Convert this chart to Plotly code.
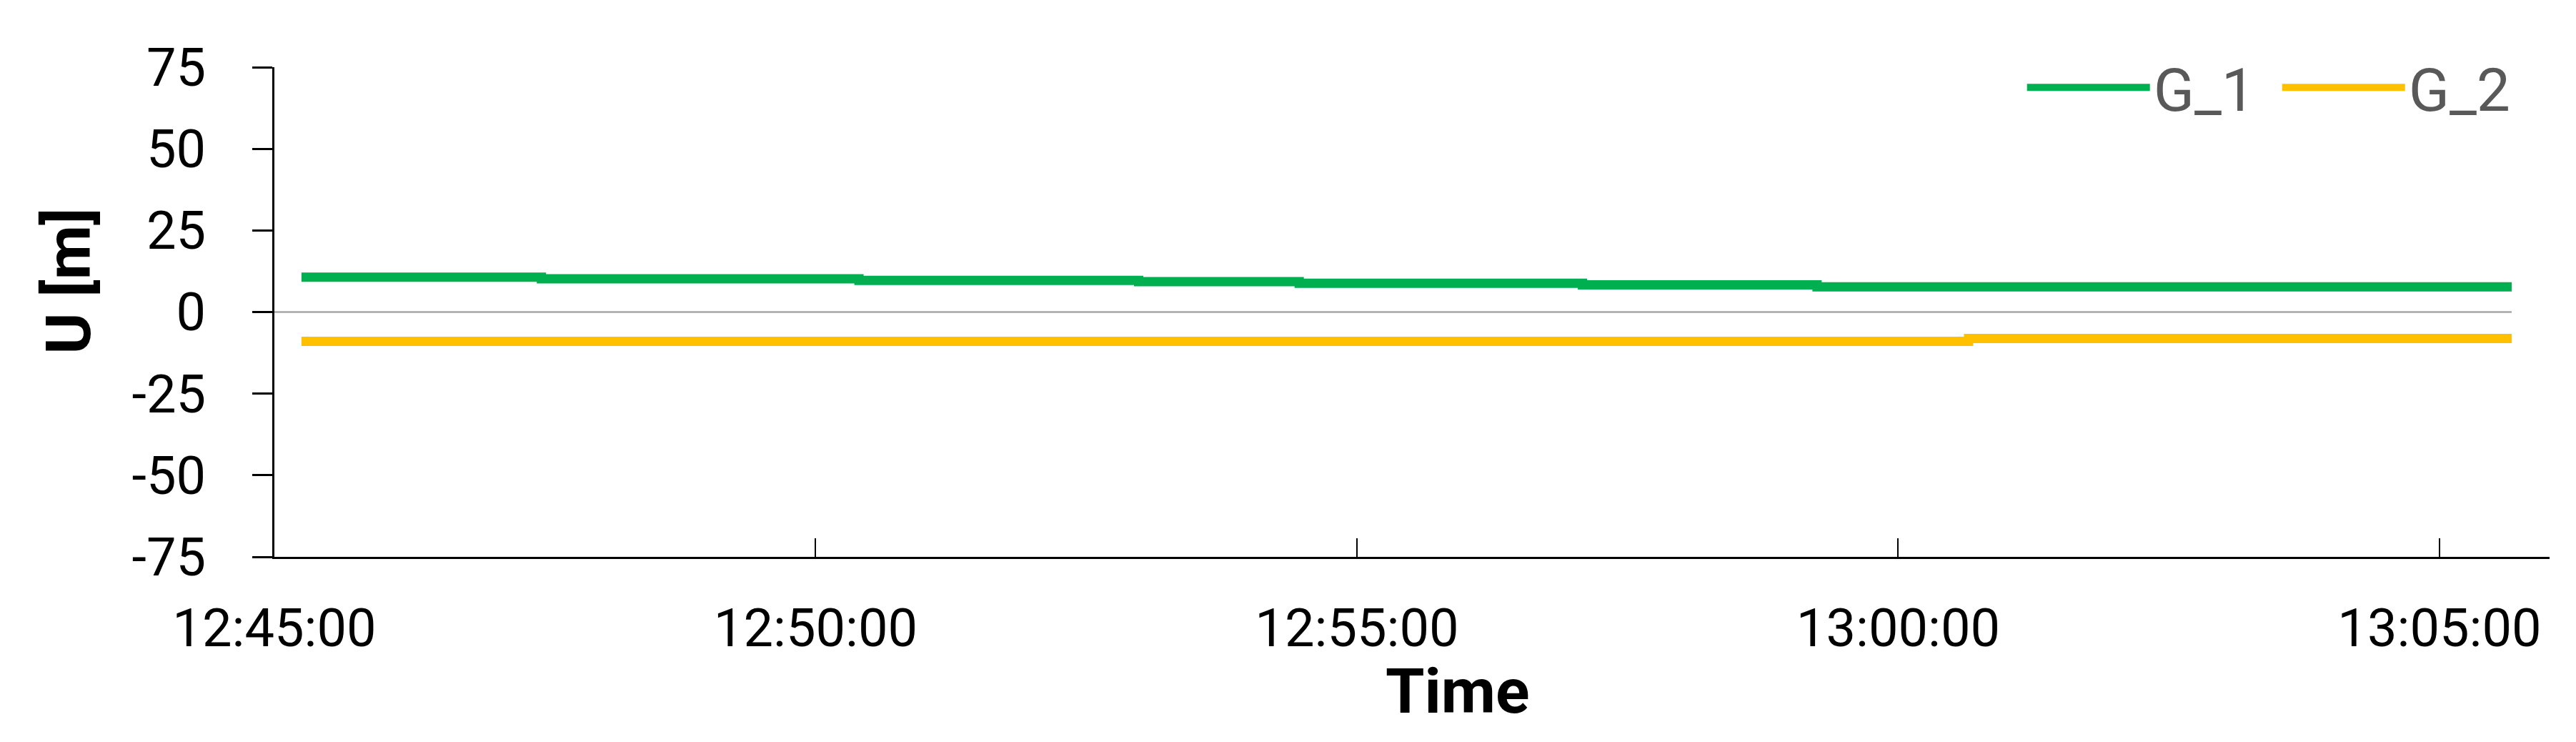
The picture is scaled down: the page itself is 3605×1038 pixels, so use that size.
import plotly.graph_objects as go

# step change times (hh:mm:ss) and levels
g1_times = ["12:45:15", "12:47:28", "12:50:24", "12:52:59", "12:54:28",
            "12:57:05", "12:59:15", "13:05:40"]
g1_values = [10.7, 10.2, 9.7, 9.3, 8.8, 8.3, 7.7, 7.7]

g2_times = ["12:45:15", "13:00:39", "13:05:40"]
g2_values = [-9.0, -8.1, -8.1]

zero_times = ["12:45:00", "13:05:40"]
zero_values = [0, 0]

y_ticks = [-75, -50, -25, 0, 25, 50, 75]
y_tick_labels = ["-75", "-50", "-25", "0", "25", "50", "75"]
x_ticks = ["12:45:00", "12:50:00", "12:55:00", "13:00:00", "13:05:00"]
x_range = ["12:45:00", "13:06:01"]

DAY = "2020-01-01 "


def stamp(ts):
    return [DAY + t for t in ts]


fig = go.Figure()

fig.add_trace(go.Scatter(
    x=stamp(zero_times), y=zero_values, mode="lines",
    line=dict(color="#A6A6A6", width=2.5),
    showlegend=False, hoverinfo="skip",
))
fig.add_trace(go.Scatter(
    x=stamp(g1_times), y=g1_values, mode="lines", name="G_1",
    line=dict(color="#00B050", width=13, shape="hv"),
))
fig.add_trace(go.Scatter(
    x=stamp(g2_times), y=g2_values, mode="lines", name="G_2",
    line=dict(color="#FFC000", width=13, shape="hv"),
))

# page body has an 8px margin, so margins are shifted by that
fig.update_layout(
    width=3605, height=1038,
    margin=dict(l=376, r=45, t=86, b=267),
    paper_bgcolor="white", plot_bgcolor="white",
    font=dict(family="Roboto", size=74, color="black"),
    legend=dict(
        orientation="h", xanchor="right", yanchor="middle",
        x=0.993, y=0.958, bgcolor="rgba(0,0,0,0)",
        font=dict(size=84, color="#595959"),
        itemwidth=172, entrywidth=170, tracegroupgap=0,
    ),
    annotations=[
        dict(text="<b>Time</b>", xref="paper", yref="paper",
             x=0.52, y=-0.273, showarrow=False,
             xanchor="center", yanchor="middle",
             font=dict(size=88, color="black")),
        dict(text="<b>U [m]</b>", xref="paper", yref="paper",
             x=-0.0905, y=0.564, showarrow=False, textangle=-90,
             xanchor="center", yanchor="middle",
             font=dict(size=88, color="black")),
    ],
)

fig.update_xaxes(
    type="date", range=stamp(x_range),
    tickvals=stamp(x_ticks), ticktext=x_ticks,
    ticks="inside", ticklen=26, tickwidth=2, tickcolor="black",
    showline=True, linecolor="black", linewidth=3,
    showgrid=False, zeroline=False,
    ticklabelstandoff=33,
)
fig.update_yaxes(
    range=[-75, 75],
    tickvals=y_ticks, ticktext=y_tick_labels,
    ticks="outside", ticklen=28, tickwidth=3, tickcolor="black",
    showline=True, linecolor="black", linewidth=3,
    showgrid=False, zeroline=False,
    ticklabelstandoff=50,
)

fig.write_html("out.html")
